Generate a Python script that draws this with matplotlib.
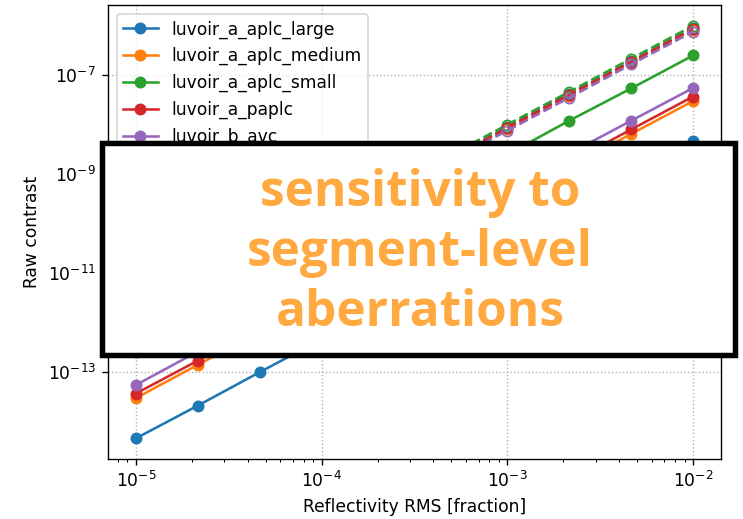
import matplotlib
matplotlib.use("Agg")
import matplotlib.pyplot as plt
from matplotlib.patches import Rectangle
from matplotlib.ticker import FixedLocator, NullLocator

DPI = 123

rms = [1e-5, 2.15e-5, 4.64e-5, 1e-4, 2.15e-4, 4.64e-4, 1e-3, 2.15e-3, 4.64e-3, 1e-2]

names = ["luvoir_a_aplc_large", "luvoir_a_aplc_medium", "luvoir_a_aplc_small",
         "luvoir_a_paplc", "luvoir_b_avc"]

# segment-level (solid, filled markers)
large = [4.6e-15, 2.1e-14, 1.0e-13, 4.6e-13, 2.1e-12, 1.0e-11, 4.6e-11, 2.1e-10, 1.0e-9, 4.6e-9]
medium = [3.0e-14, 1.4e-13, 6.5e-13, 3.0e-12, 1.4e-11, 6.5e-11, 3.0e-10, 1.4e-9, 6.5e-9, 3.0e-8]
small = [2.5e-13, 1.2e-12, 5.4e-12, 2.5e-11, 1.2e-10, 5.4e-10, 2.5e-9, 1.2e-8, 5.4e-8, 2.5e-7]
paplc = [3.7e-14, 1.7e-13, 8.0e-13, 3.7e-12, 1.7e-11, 8.0e-11, 3.7e-10, 1.7e-9, 8.0e-9, 3.7e-8]
b_avc = [5.5e-14, 2.6e-13, 1.2e-12, 5.5e-12, 2.6e-11, 1.2e-10, 5.5e-10, 2.6e-9, 1.2e-8, 5.5e-8]

# dashed, open markers
large_d = [9.0e-13, 4.2e-12, 1.9e-11, 9.0e-11, 4.2e-10, 1.9e-9, 9.0e-9, 4.2e-8, 1.9e-7, 9.0e-7]
medium_d = [8.2e-13, 3.8e-12, 1.8e-11, 8.2e-11, 3.8e-10, 1.8e-9, 8.2e-9, 3.8e-8, 1.8e-7, 8.2e-7]
small_d = [1.0e-12, 4.6e-12, 2.15e-11, 1.0e-10, 4.6e-10, 2.15e-9, 1.0e-8, 4.6e-8, 2.15e-7, 1.0e-6]
paplc_d = [8.6e-13, 4.0e-12, 1.85e-11, 8.6e-11, 4.0e-10, 1.85e-9, 8.6e-9, 4.0e-8, 1.85e-7, 8.6e-7]
b_avc_d = [7.6e-13, 3.5e-12, 1.65e-11, 7.6e-11, 3.5e-10, 1.65e-9, 7.6e-9, 3.5e-8, 1.65e-7, 7.6e-7]

solid = [large, medium, small, paplc, b_avc]
dashed = [large_d, medium_d, small_d, paplc_d, b_avc_d]
colors = ["#1f77b4", "#ff7f0e", "#2ca02c", "#d62728", "#9467bd"]

fig = plt.figure(figsize=(743 / DPI, 519 / DPI), dpi=DPI)
ax = fig.add_axes([108 / 743, 1 - 459 / 519, 613 / 743, 454 / 519])

for name, vals, c in zip(names, solid, colors):
    ax.loglog(rms, vals, "o-", color=c, label=name)
for vals, c in zip(dashed, colors):
    ax.loglog(rms, vals, "o--", color=c, markerfacecolor="none")

ax.yaxis.set_major_locator(FixedLocator([1e-13, 1e-11, 1e-9, 1e-7]))
ax.yaxis.set_minor_locator(NullLocator())
ax.grid(True, which="major", linestyle=":", color="#b0b0b0")
ax.set_xlabel("Reflectivity RMS [fraction]")
ax.set_ylabel("Raw contrast")
ax.legend(loc="upper left")

# overlay caption box
fig.patches.append(Rectangle((102 / 743, 1 - 355 / 519), 633 / 743, 212 / 519,
                             transform=fig.transFigure, facecolor="white",
                             edgecolor="black", linewidth=3.2, zorder=10))
fig.text(420 / 743, 1 - 253 / 519, "sensitivity to\nsegment-level\naberrations",
         ha="center", va="center", color="#FFA940", fontsize=29,
         fontweight="bold", family="Open Sans", linespacing=1.27, zorder=11)

fig.savefig("out.png", dpi=DPI)
